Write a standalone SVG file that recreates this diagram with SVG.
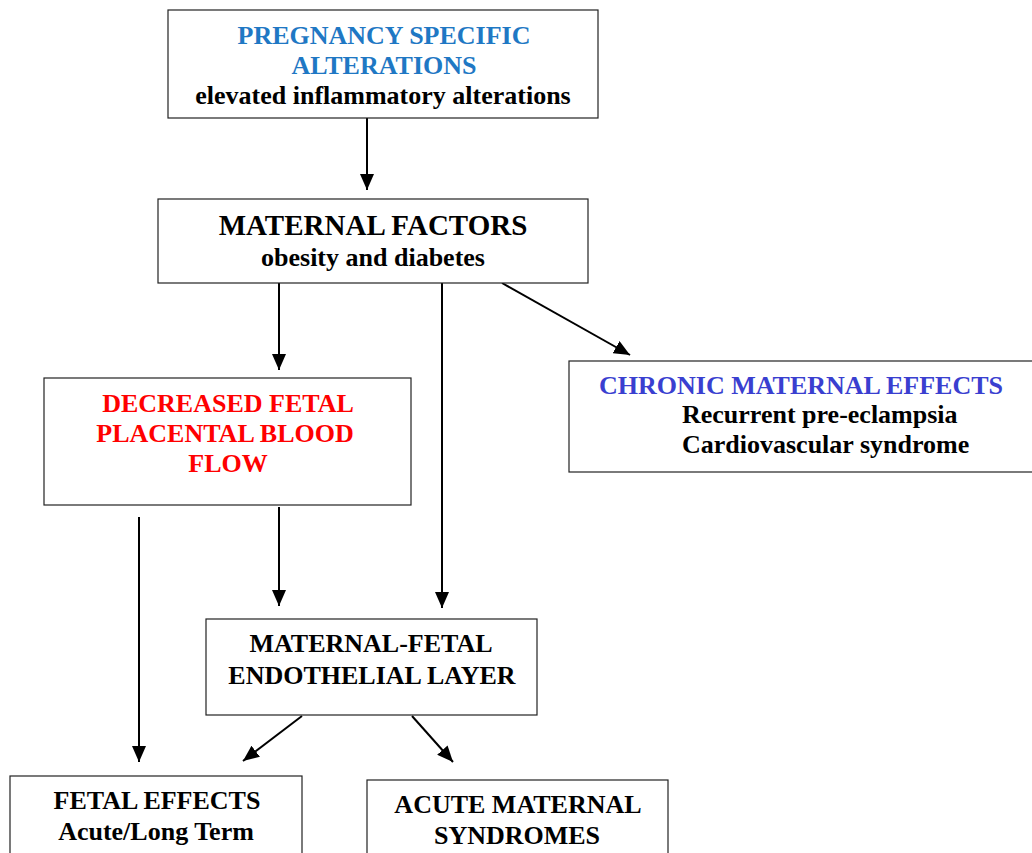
<svg xmlns="http://www.w3.org/2000/svg" width="1032" height="853" viewBox="0 0 1032 853">
  <defs>
    <style>
      .box { fill: #fff; stroke: #222; stroke-width: 1.2; }
      .t { font-family: "Liberation Serif", "Times New Roman", serif; font-weight: bold; text-anchor: middle; fill: #000; font-size: 26px; }
      .big { font-size: 29px; }
      .l { text-anchor: start; }
      .con { stroke: #000; stroke-width: 2; fill: none; }
      .blue { fill: #1f78c4; }
      .indigo { fill: #3a3fd0; }
      .red { fill: #ff0000; }
    </style>
    <marker id="head" viewBox="0 0 16 14" refX="16" refY="7" markerWidth="16" markerHeight="14" markerUnits="userSpaceOnUse" orient="auto">
      <path d="M0,0 L16,7 L0,14 z" fill="#000"/>
    </marker>
  </defs>
  <rect width="1032" height="853" fill="#fff"/>

  <g id="connectors">
    <line class="con" x1="367" y1="118" x2="367" y2="190" stroke-width="2.6" marker-end="url(#head)"/>
    <line class="con" x1="279" y1="283" x2="279" y2="370" marker-end="url(#head)"/>
    <line class="con" x1="442" y1="280" x2="442" y2="608" marker-end="url(#head)"/>
    <line class="con" x1="502" y1="283" x2="630" y2="355" marker-end="url(#head)"/>
    <line class="con" x1="279" y1="507" x2="279" y2="606" marker-end="url(#head)"/>
    <line class="con" x1="139" y1="517" x2="139" y2="762" marker-end="url(#head)"/>
    <line class="con" x1="302" y1="716" x2="243" y2="761" marker-end="url(#head)"/>
    <line class="con" x1="412" y1="716" x2="453" y2="762" marker-end="url(#head)"/>
  </g>

  <g id="pregnancy-specific">
    <rect class="box" x="168" y="10" width="430" height="108"/>
    <text class="t blue" x="384" y="44">PREGNANCY SPECIFIC</text>
    <text class="t blue" x="384" y="74">ALTERATIONS</text>
    <text class="t" x="383" y="104">elevated inflammatory alterations</text>
  </g>

  <g id="maternal-factors">
    <rect class="box" x="158" y="199" width="430" height="84"/>
    <text class="t big" x="373" y="235">MATERNAL FACTORS</text>
    <text class="t" x="373" y="266">obesity and diabetes</text>
  </g>

  <g id="chronic-maternal">
    <rect class="box" x="569" y="361" width="470" height="111"/>
    <text class="t indigo" x="801" y="394">CHRONIC MATERNAL EFFECTS</text>
    <text class="t l" x="682" y="423">Recurrent pre-eclampsia</text>
    <text class="t l" x="682" y="453">Cardiovascular syndrome</text>
  </g>

  <g id="decreased-flow">
    <rect class="box" x="44" y="378" width="367" height="127"/>
    <text class="t red" x="228" y="412">DECREASED FETAL</text>
    <text class="t red" x="225" y="442">PLACENTAL BLOOD</text>
    <text class="t red" x="228" y="472">FLOW</text>
  </g>

  <g id="endothelial-layer">
    <rect class="box" x="206" y="619" width="331" height="96"/>
    <text class="t" x="371" y="652">MATERNAL-FETAL</text>
    <text class="t" x="372" y="684">ENDOTHELIAL LAYER</text>
  </g>

  <g id="fetal-effects">
    <rect class="box" x="10" y="776" width="292" height="90"/>
    <text class="t" x="157" y="809">FETAL EFFECTS</text>
    <text class="t" x="156" y="840">Acute/Long Term</text>
  </g>

  <g id="acute-maternal">
    <rect class="box" x="367" y="780" width="301" height="90"/>
    <text class="t" x="518" y="813">ACUTE MATERNAL</text>
    <text class="t" x="517" y="844">SYNDROMES</text>
  </g>
</svg>
